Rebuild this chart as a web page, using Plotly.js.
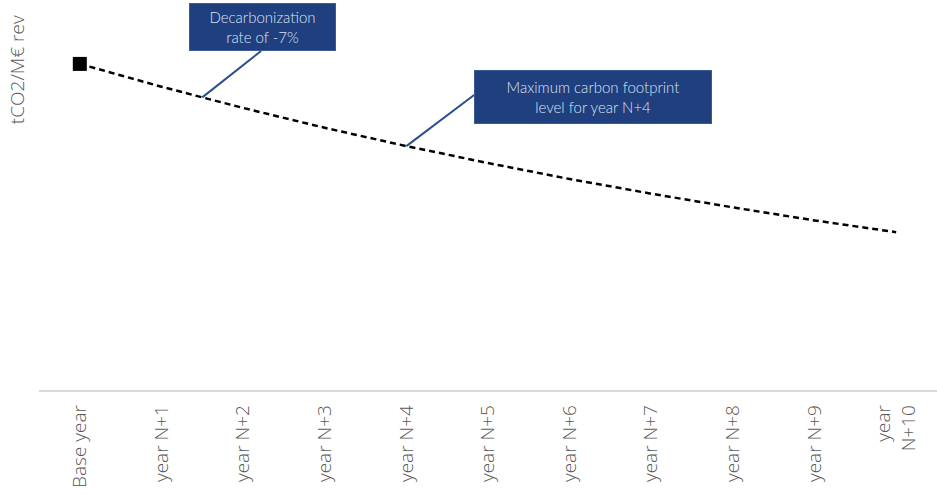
<!DOCTYPE html>
<html>
<head>
<meta charset="utf-8">
<script src="https://cdn.plot.ly/plotly-3.0.1.min.js"></script>
<style>html,body{margin:0;padding:0;background:#fff;}#chart{width:937px;height:495px;}</style>
</head>
<body>
<div id="chart"></div>
<script>
// Data
var categories = ["Base year","year N+1","year N+2","year N+3","year N+4","year N+5","year N+6","year N+7","year N+8","year N+9","year N+10"];
var tickLabels = ["Base year","year N+1","year N+2","year N+3","year N+4","year N+5","year N+6","year N+7","year N+8","year N+9","year<br>N+10"];
var footprint = [100, 93, 86.5, 80.4, 74.8, 69.6, 64.7, 60.2, 56.0, 52.0, 48.4];
var baseCategory = [categories[0]];
var baseValue = [footprint[0]];
var yTitle = "tCO2/M€ rev";
var note1 = "Decarbonization<br>rate of -7%";
var note2 = "Maximum carbon footprint<br>level for year N+4";

var traces = [
  {x: categories, y: footprint, type: "scatter", mode: "lines",
   line: {color: "#000000", width: 2.5, dash: "6px,4px"}, hoverinfo: "skip", showlegend: false},
  {x: baseCategory, y: baseValue, type: "scatter", mode: "markers",
   marker: {symbol: "square", size: 14, color: "#000000"}, hoverinfo: "skip", showlegend: false}
];

var font = "'Open Sans', Lato, sans-serif";
var boxFont = "Lato, 'Open Sans', sans-serif";
var boxFill = "#1F3F7F", boxLine = "#3A5A98", boxText = "#DCE3F1", leader = "#2B4E8F";

var layout = {
  width: 937, height: 495,
  margin: {l: 39, r: 0, t: 15, b: 105},
  paper_bgcolor: "#ffffff", plot_bgcolor: "#ffffff",
  font: {family: font},
  showlegend: false,
  xaxis: {type: "category", range: [-0.5, 10.5], tickmode: "array", tickvals: categories, ticktext: tickLabels,
          tickangle: -90, ticks: "", ticklabelstandoff: 6, showgrid: false, zeroline: false,
          showline: true, linecolor: "#D9D9D9", linewidth: 1.5,
          tickfont: {family: font, size: 19, weight: 300, color: "#595959"}},
  yaxis: {range: [0, 115], showticklabels: false, showgrid: false, zeroline: false, showline: false, ticks: ""},
  shapes: [
    {type: "line", xref: "x", yref: "y", x0: 2.22, y0: 103.96, x1: 1.5, y1: (footprint[1] + footprint[2]) / 2,
     line: {color: leader, width: 2}},
    {type: "line", xref: "x", yref: "y", x0: 4.83, y0: 90.47, x1: 4, y1: footprint[4],
     line: {color: leader, width: 2}}
  ],
  annotations: [
    {text: yTitle, xref: "paper", yref: "paper", x: 0, xshift: -22, y: 0.853, xanchor: "center", yanchor: "middle",
     textangle: -90, showarrow: false, font: {family: font, size: 19, weight: 300, color: "#595959"}},
    {text: note1, xref: "paper", yref: "paper", x: 0.2489, y: 0.968, xanchor: "center", yanchor: "middle",
     showarrow: false, width: 143, height: 44, bgcolor: boxFill, bordercolor: boxLine, borderwidth: 1, borderpad: 1,
     font: {family: boxFont, size: 15, weight: 300, color: boxText}},
    {text: note2, xref: "paper", yref: "paper", x: 0.617, y: 0.781, xanchor: "center", yanchor: "middle",
     showarrow: false, width: 234, height: 50, bgcolor: boxFill, bordercolor: boxLine, borderwidth: 1, borderpad: 1,
     font: {family: boxFont, size: 15, weight: 300, color: boxText}}
  ]
};

Plotly.newPlot("chart", traces, layout, {displayModeBar: false, staticPlot: true});
</script>
</body>
</html>
